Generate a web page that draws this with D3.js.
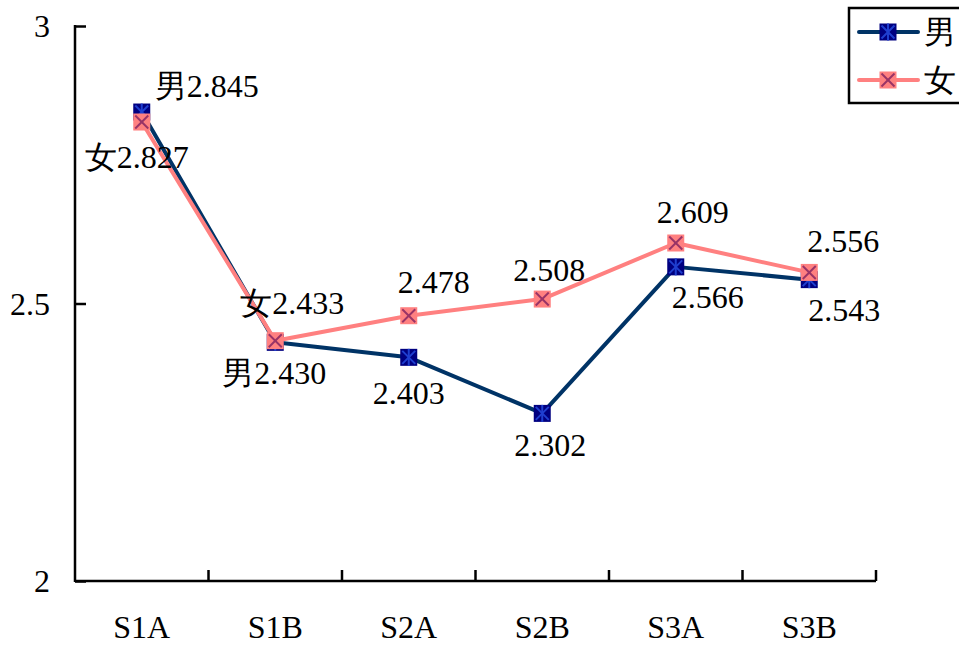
<!DOCTYPE html>
<html><head><meta charset="utf-8">
<script src="https://cdn.jsdelivr.net/npm/d3@7"></script>
<style>
html,body{margin:0;padding:0;background:#fff;}
svg{display:block;}
</style></head><body>
<script>
const categories = ["S1A","S1B","S2A","S2B","S3A","S3B"];
const maleValues = [2.845, 2.430, 2.403, 2.302, 2.566, 2.543];
const femaleValues = [2.827, 2.433, 2.478, 2.508, 2.609, 2.556];
const maleLabels = ["男2.845","男2.430","2.403","2.302","2.566","2.543"];
const femaleLabels = ["女2.827","女2.433","2.478","2.508","2.609","2.556"];
const yTicks = [2, 2.5, 3];
const yTickLabels = ["2","2.5","3"];
const seriesNames = ["男","女"];

// label placement offsets (layout only)
const maleLabelOffsets = [[13,-26],[-53,31],[-36,36],[-28,32],[-4,30],[-1,30]];
const femaleLabelOffsets = [[-57,35],[-35,-38],[-11,-34],[-29,-29],[-19,-31],[-2,-31]];

(function(){
const W = 959, H = 645;
const pL = 75, pR = 876, pT = 26, pB = 581;
const FS = 32;
const FONT = "'Liberation Serif', 'DejaVu Serif', 'Times New Roman', serif";
const svg = d3.select("body").append("svg").attr("width", W).attr("height", H)
  .style("font-family", FONT).attr("font-family", FONT);

const x = d3.scaleBand().domain(categories).range([pL, pR]).padding(0);
const y = d3.scaleLinear().domain([2, 3]).range([pB, pT]);
const cx = c => x(c) + x.bandwidth() / 2;

// Y axis
const yAxis = svg.append("g").attr("transform", `translate(${pL},0)`)
  .call(d3.axisRight(y).tickValues(yTicks).tickSize(11).tickFormat(""));
yAxis.attr("font-family", null).attr("font-size", null);
yAxis.select(".domain").remove();
yAxis.selectAll("line").attr("stroke", "#000").attr("stroke-width", 2.5);
svg.append("line").attr("x1", pL).attr("x2", pL).attr("y1", pT - 1).attr("y2", pB + 1)
  .attr("stroke", "#000").attr("stroke-width", 2.5);
svg.selectAll(".ylab").data(yTicks).enter().append("text")
  .attr("x", 50).attr("y", d => y(d)).attr("text-anchor", "end")
  .attr("dominant-baseline", "central").attr("font-size", FS).attr("fill", "#000")
  .style("font-family", FONT)
  .text((d, i) => yTickLabels[i]);

// X axis
svg.append("line").attr("x1", pL).attr("x2", pR).attr("y1", pB).attr("y2", pB)
  .attr("stroke", "#000").attr("stroke-width", 2.5);
const bounds = categories.map(c => x(c) + x.bandwidth());
svg.selectAll(".xtick").data(bounds).enter().append("line")
  .attr("x1", d => d).attr("x2", d => d).attr("y1", pB).attr("y2", pB - 11)
  .attr("stroke", "#000").attr("stroke-width", 2.5);
svg.selectAll(".xlab").data(categories).enter().append("text")
  .attr("x", d => cx(d)).attr("y", 626.5).attr("text-anchor", "middle")
  .attr("dominant-baseline", "central").attr("font-size", FS).attr("fill", "#000")
  .style("font-family", FONT).text(d => d);

const line = d3.line().x((d, i) => cx(categories[i])).y(d => y(d));

const series = [
  {name: seriesNames[0], values: maleValues, labels: maleLabels, offs: maleLabelOffsets,
   color: "#003366", fill: "#000080", mark: "#1f3fd0", star: true},
  {name: seriesNames[1], values: femaleValues, labels: femaleLabels, offs: femaleLabelOffsets,
   color: "#FF8080", fill: "#FF8080", mark: "#993366", star: false}
];

function drawMarker(g, px, py, s) {
  const h = 8.5;
  g.append("rect").attr("x", px - h).attr("y", py - h).attr("width", 2 * h).attr("height", 2 * h)
    .attr("fill", s.fill);
  const d = 6.5;
  g.append("line").attr("x1", px - d).attr("y1", py - d).attr("x2", px + d).attr("y2", py + d)
    .attr("stroke", s.mark).attr("stroke-width", 2);
  g.append("line").attr("x1", px - d).attr("y1", py + d).attr("x2", px + d).attr("y2", py - d)
    .attr("stroke", s.mark).attr("stroke-width", 2);
  if (s.star) {
    g.append("line").attr("x1", px).attr("y1", py - h).attr("x2", px).attr("y2", py + h)
      .attr("stroke", s.mark).attr("stroke-width", 2);
  }
}

series.forEach(s => {
  svg.append("path").datum(s.values).attr("d", line).attr("fill", "none")
    .attr("stroke", s.color).attr("stroke-width", 4).attr("stroke-linejoin", "round");
  const g = svg.append("g");
  s.values.forEach((v, i) => drawMarker(g, cx(categories[i]), y(v), s));
});

series.forEach(s => {
  svg.selectAll(null).data(s.values).enter().append("text")
    .attr("x", (v, i) => cx(categories[i]) + s.offs[i][0])
    .attr("y", (v, i) => y(v) + s.offs[i][1])
    .attr("dominant-baseline", "central").attr("font-size", FS).attr("fill", "#000")
    .style("font-family", FONT)
    .text((v, i) => s.labels[i]);
});

// Legend
const lg = svg.append("g");
lg.append("rect").attr("x", 849).attr("y", 8).attr("width", 130).attr("height", 95)
  .attr("fill", "#fff").attr("stroke", "#000").attr("stroke-width", 2.5);
series.forEach((s, i) => {
  const ly = 32 + i * 48;
  lg.append("line").attr("x1", 859).attr("x2", 918).attr("y1", ly).attr("y2", ly)
    .attr("stroke", s.color).attr("stroke-width", 4).attr("stroke-linecap", "round");
  drawMarker(lg, 888, ly, s);
  lg.append("text").attr("x", 924).attr("y", ly).attr("dominant-baseline", "central")
    .attr("font-size", FS).attr("fill", "#000").style("font-family", FONT).text(s.name);
});
})();
</script>
</body></html>
